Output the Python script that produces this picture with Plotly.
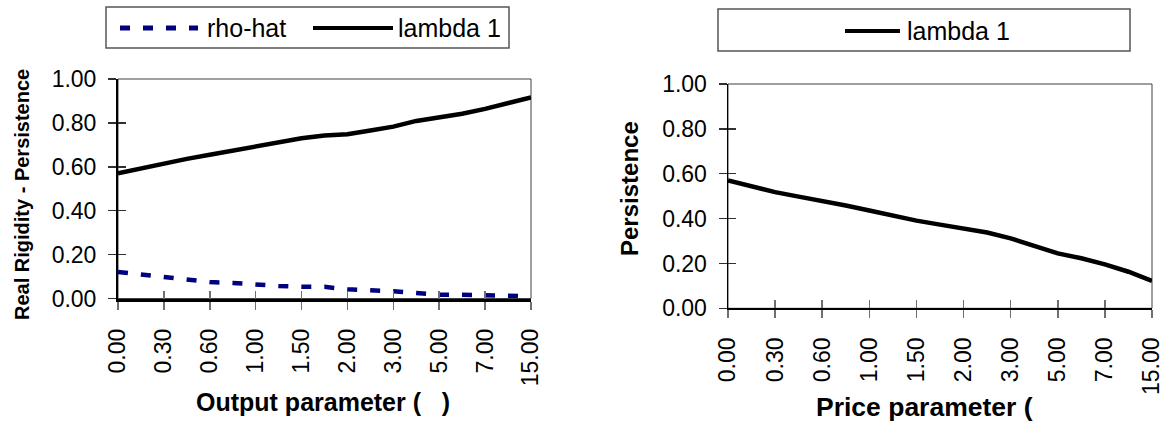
import plotly.graph_objects as go

# ---- data ----
point_pos = [0, 1, 2, 3, 4, 5, 6, 7, 8, 9, 10, 11, 12, 13, 14, 15, 16, 17, 18]
label_pos = [0, 2, 4, 6, 8, 10, 12, 14, 16, 18]
param_labels = ["0.00", "0.30", "0.60", "1.00", "1.50", "2.00", "3.00", "5.00", "7.00", "15.00"]

rho_hat = [0.121, 0.109, 0.097, 0.088, 0.075, 0.071, 0.062, 0.057, 0.053, 0.053,
           0.042, 0.039, 0.033, 0.025, 0.017, 0.017, 0.017, 0.013, 0.008]
lambda1_output = [0.570, 0.593, 0.615, 0.636, 0.655, 0.675, 0.695, 0.713, 0.730, 0.743,
                  0.748, 0.765, 0.783, 0.809, 0.824, 0.842, 0.864, 0.890, 0.916]
lambda1_price = [0.570, 0.543, 0.518, 0.498, 0.480, 0.458, 0.436, 0.413, 0.391, 0.373,
                 0.355, 0.338, 0.312, 0.278, 0.245, 0.223, 0.196, 0.163, 0.122]

W, H = 1163, 429
FONT = "Liberation Sans, Arial, sans-serif"
NAVY = "#000080"


def px(x):
    return x / W


def py(y):
    return 1 - y / H


fig = go.Figure()

fig.add_trace(go.Scatter(x=point_pos, y=rho_hat, mode="lines", name="rho-hat",
                         line=dict(color=NAVY, width=4.5, dash="10px,13px"),
                         xaxis="x", yaxis="y", showlegend=False, hoverinfo="skip"))
fig.add_trace(go.Scatter(x=point_pos, y=lambda1_output, mode="lines", name="lambda 1",
                         line=dict(color="black", width=4.5),
                         xaxis="x", yaxis="y", showlegend=False, hoverinfo="skip"))
fig.add_trace(go.Scatter(x=point_pos, y=lambda1_price, mode="lines", name="lambda 1",
                         line=dict(color="black", width=4.5),
                         xaxis="x2", yaxis="y2", showlegend=False, hoverinfo="skip"))
# empty traces so the overlay (inner tick) axes are drawn
fig.add_trace(go.Scatter(x=[], y=[], xaxis="x3", yaxis="y3", showlegend=False))
fig.add_trace(go.Scatter(x=[], y=[], xaxis="x4", yaxis="y4", showlegend=False))

tickfont = dict(family=FONT, size=23, color="black")

dom_x1 = [px(118), px(531)]
dom_y1 = [py(298.5), py(79)]
dom_x2 = [px(728), px(1152)]
dom_y2 = [py(308.3), py(84)]


def xaxis_common(domain, anchor, lw):
    return dict(domain=domain, anchor=anchor, range=[0, 18], tickmode="array",
                tickvals=label_pos, ticktext=param_labels, tickangle=-90,
                ticks="outside", ticklen=8, tickwidth=1.5, tickcolor="#707070",
                showline=True, linecolor="black", linewidth=lw,
                showgrid=False, zeroline=False, tickfont=tickfont,
                ticklabelstandoff=10, ticklabeloverflow="allow",
                fixedrange=True, automargin=False)


def yaxis_common(domain, anchor, lw):
    return dict(domain=domain, anchor=anchor, range=[0, 1], tickmode="linear",
                tick0=0, dtick=0.2, tickformat=".2f",
                ticks="outside", ticklen=8, tickwidth=1.5, tickcolor="#303030",
                showline=True, linecolor="black", linewidth=lw,
                showgrid=False, zeroline=False, tickfont=tickfont,
                ticklabelstandoff=7, ticklabeloverflow="allow",
                fixedrange=True, automargin=False)


def inner_x(over, anchor):
    return dict(overlaying=over, anchor=anchor, range=[0, 18], tickmode="array",
                tickvals=label_pos, ticks="inside", ticklen=8, tickwidth=1.5,
                tickcolor="#707070", showticklabels=False, showline=False,
                showgrid=False, zeroline=False, fixedrange=True, automargin=False)


def inner_y(over, anchor):
    return dict(overlaying=over, anchor=anchor, range=[0, 1], tickmode="linear",
                tick0=0, dtick=0.2, ticks="inside", ticklen=8, tickwidth=1.5,
                tickcolor="#303030", showticklabels=False, showline=False,
                showgrid=False, zeroline=False, fixedrange=True, automargin=False)


fig.update_layout(
    template="none",
    xaxis=xaxis_common(dom_x1, "y", 3),
    yaxis=yaxis_common(dom_y1, "x", 2),
    xaxis2=xaxis_common(dom_x2, "y2", 2),
    yaxis2=yaxis_common(dom_y2, "x2", 1.5),
    xaxis3=inner_x("x", "y3"),
    yaxis3=inner_y("y", "x3"),
    xaxis4=inner_x("x2", "y4"),
    yaxis4=inner_y("y2", "x4"),
    width=W, height=H,
    margin=dict(l=0, r=0, t=0, b=0, pad=0),
    paper_bgcolor="white", plot_bgcolor="white",
    showlegend=False,
    hovermode=False,
)

shapes = []
# plot-area frames (thin top/right border)
shapes.append(dict(type="rect", xref="x domain", yref="y domain", x0=0, x1=1, y0=0, y1=1,
                   line=dict(color="#404040", width=1), layer="below"))
shapes.append(dict(type="rect", xref="x2 domain", yref="y2 domain", x0=0, x1=1, y0=0, y1=1,
                   line=dict(color="#404040", width=1), layer="below"))
# legend boxes
shapes.append(dict(type="rect", xref="paper", yref="paper", x0=px(106), x1=px(509),
                   y0=py(48), y1=py(7), line=dict(color="#555555", width=1.5)))
shapes.append(dict(type="rect", xref="paper", yref="paper", x0=px(718), x1=px(1130),
                   y0=py(51), y1=py(9), line=dict(color="#555555", width=1.5)))
# legend samples
shapes.append(dict(type="line", xref="paper", yref="paper", x0=px(120), x1=px(198),
                   y0=py(28), y1=py(28),
                   line=dict(color=NAVY, width=5, dash="10px,13px")))
shapes.append(dict(type="line", xref="paper", yref="paper", x0=px(313), x1=px(393),
                   y0=py(28), y1=py(28), line=dict(color="black", width=4)))
shapes.append(dict(type="line", xref="paper", yref="paper", x0=px(845), x1=px(900),
                   y0=py(31), y1=py(31), line=dict(color="black", width=4)))
fig.update_layout(shapes=shapes)

legfont = dict(family=FONT, size=25, color="black")
annotations = [
    dict(text="rho-hat", x=px(205), y=py(28), xanchor="left", yanchor="middle",
         xref="paper", yref="paper", showarrow=False, font=legfont),
    dict(text="lambda 1", x=px(396), y=py(28), xanchor="left", yanchor="middle",
         xref="paper", yref="paper", showarrow=False, font=legfont),
    dict(text="lambda 1", x=px(905), y=py(31), xanchor="left", yanchor="middle",
         xref="paper", yref="paper", showarrow=False, font=legfont),
    dict(text="Output parameter (\u00a0\u00a0\u00a0)", x=px(194), y=py(402),
         xanchor="left", yanchor="middle", xref="paper", yref="paper",
         showarrow=False, font=dict(family=FONT, size=25, color="black", weight="bold")),
    dict(text="Price parameter (", x=px(814), y=py(407),
         xanchor="left", yanchor="middle", xref="paper", yref="paper",
         showarrow=False, font=dict(family=FONT, size=26.5, color="black", weight="bold")),
    dict(text="Real Rigidity - Persistence", x=px(22), y=py(195), textangle=-90,
         xanchor="center", yanchor="middle", xref="paper", yref="paper",
         showarrow=False, font=dict(family=FONT, size=20, color="black", weight="bold")),
    dict(text="Persistence", x=px(629), y=py(188), textangle=-90,
         xanchor="center", yanchor="middle", xref="paper", yref="paper",
         showarrow=False, font=dict(family=FONT, size=24, color="black", weight="bold")),
]
fig.update_layout(annotations=annotations)

fig.write_html("out.html",
               config={"displayModeBar": False, "staticPlot": True},
               post_script="document.body.style.margin='0px';"
                           "document.body.style.overflow='hidden';")
